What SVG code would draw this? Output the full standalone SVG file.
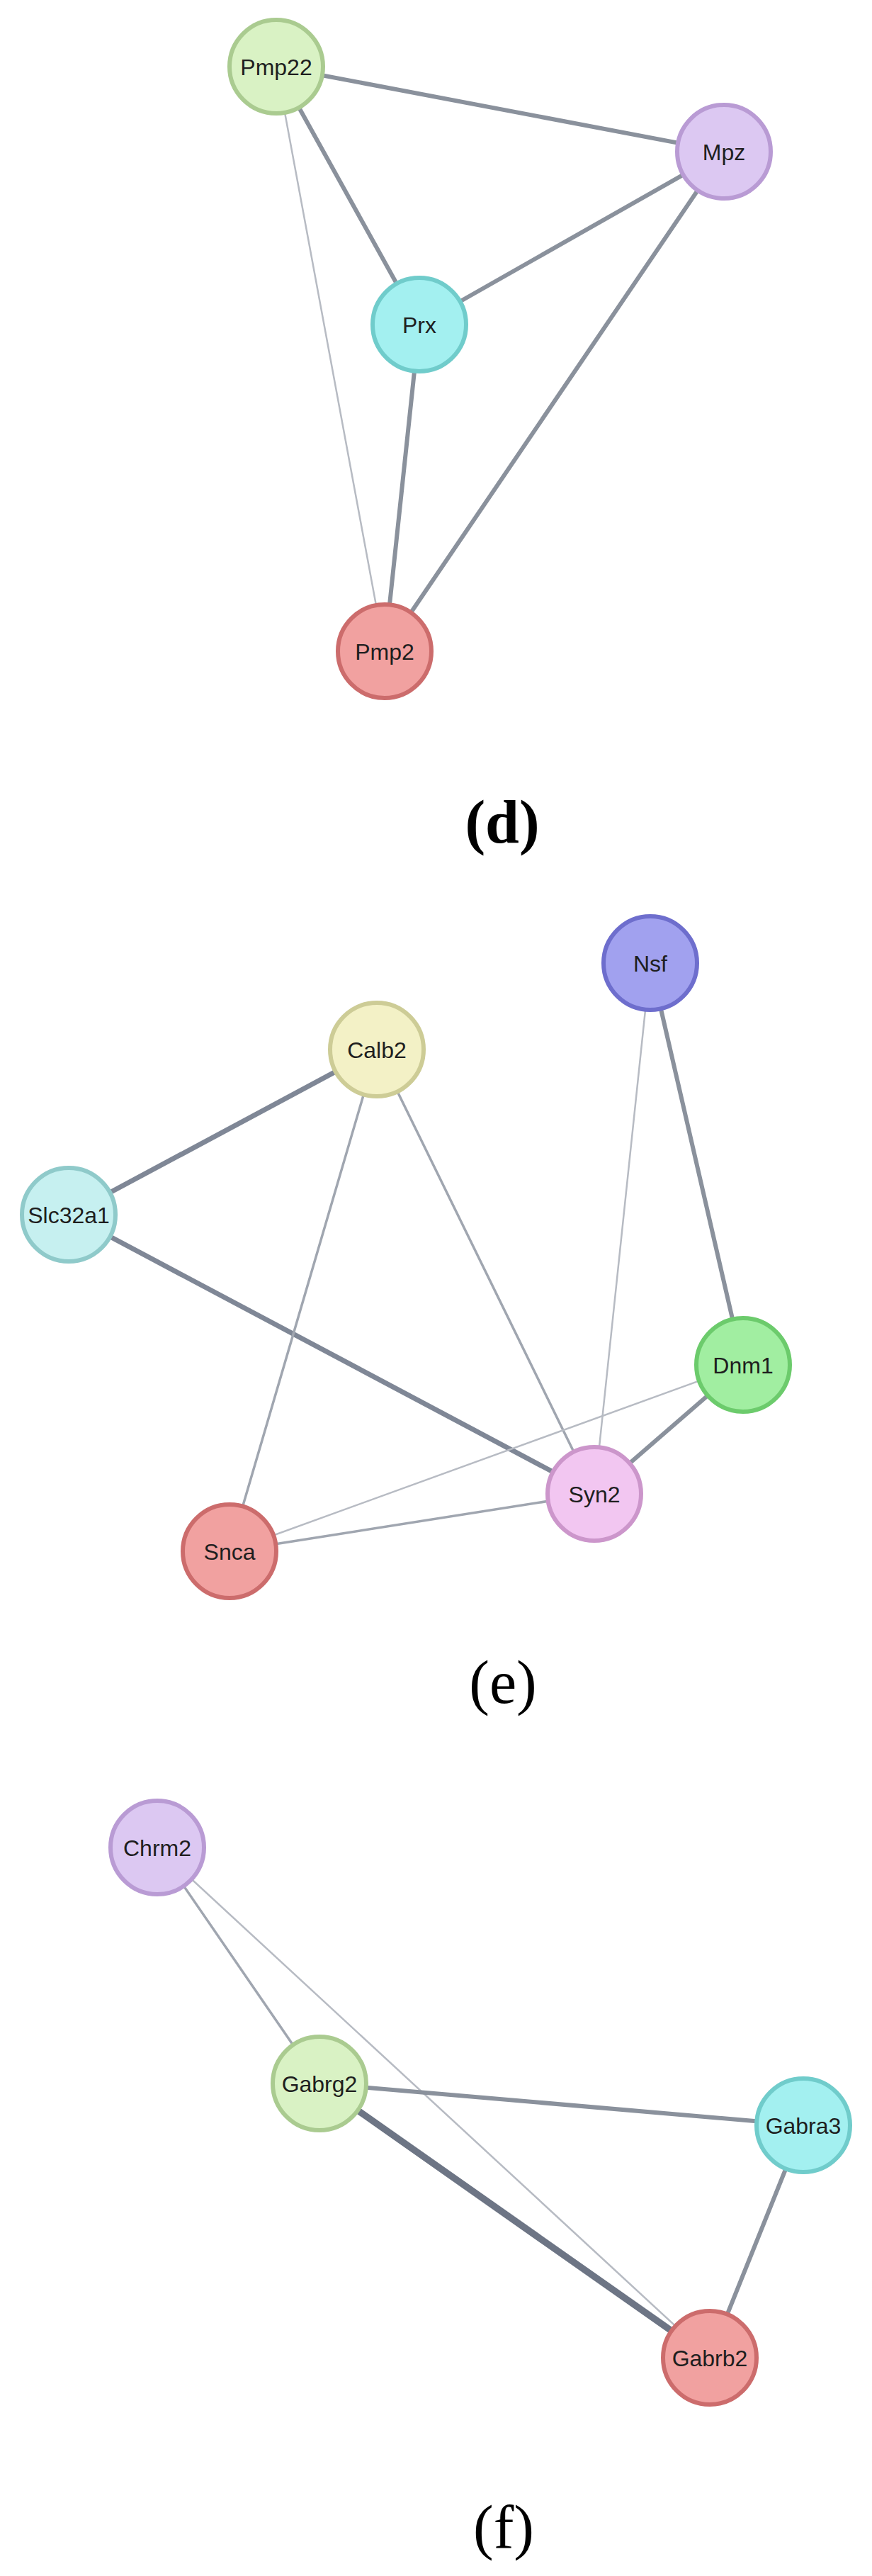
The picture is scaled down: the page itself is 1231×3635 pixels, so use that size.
<svg xmlns="http://www.w3.org/2000/svg" width="1231" height="3635" viewBox="0 0 1231 3635">
<style>
.e{stroke:#8a919c;stroke-linecap:round;fill:none}
.w1{stroke:#b7bbc3;stroke-width:2.5}
.w2{stroke:#a0a6b0;stroke-width:3.5}
.w3{stroke-width:6}
.w4{stroke:#7f8796;stroke-width:7}
.w5{stroke:#6d7585;stroke-width:9.5}
.n circle{stroke-width:6}
.n text{font-family:"Liberation Sans",Arial,sans-serif;font-size:32px;fill:#1e1e1e;text-anchor:middle}
.lab{font-family:"Liberation Serif","Times New Roman",serif;font-size:86px;fill:#000;text-anchor:middle}
.green circle{fill:#d9f2c4;stroke:#aacb90}
.purple circle{fill:#dcc8f2;stroke:#b99bd4}
.cyan circle{fill:#a3f0f0;stroke:#70cccb}
.red circle{fill:#f1a1a0;stroke:#cc6c6c}
.blue circle{fill:#a1a1ef;stroke:#6e6ecd}
.yellow circle{fill:#f3f1c6;stroke:#cdcc96}
.lcyan circle{fill:#c6f0f0;stroke:#8fcaca}
.lgreen circle{fill:#a1eea1;stroke:#6ccb6c}
.pink circle{fill:#f2c6f1;stroke:#cc96cb}
</style>
<rect width="1231" height="3635" fill="#fff"/>
<g id="connectors">
<line class="e w3" x1="390" y1="94" x2="1022" y2="214"/>
<line class="e w3" x1="390" y1="94" x2="592" y2="458"/>
<line class="e w1" x1="390" y1="94" x2="543" y2="919"/>
<line class="e w3" x1="1022" y1="214" x2="592" y2="458"/>
<line class="e w3" x1="1022" y1="214" x2="543" y2="919"/>
<line class="e w3" x1="592" y1="458" x2="543" y2="919"/>

<line class="e w4" x1="532" y1="1481" x2="97" y2="1714"/>
<line class="e w4" x1="97" y1="1714" x2="839" y2="2108"/>
<line class="e w2" x1="532" y1="1481" x2="324" y2="2189"/>
<line class="e w2" x1="532" y1="1481" x2="839" y2="2108"/>
<line class="e w1" x1="918" y1="1359" x2="839" y2="2108"/>
<line class="e w3" x1="918" y1="1359" x2="1049" y2="1926"/>
<line class="e w3" x1="1049" y1="1926" x2="839" y2="2108"/>
<line class="e w1" x1="1049" y1="1926" x2="324" y2="2189"/>
<line class="e w2" x1="839" y1="2108" x2="324" y2="2189"/>

<line class="e w2" x1="222" y1="2607" x2="451" y2="2940"/>
<line class="e w1" x1="222" y1="2607" x2="1002" y2="3327"/>
<line class="e w3" x1="451" y1="2940" x2="1134" y2="2999"/>
<line class="e w5" x1="451" y1="2940" x2="1002" y2="3327"/>
<line class="e w3" x1="1134" y1="2999" x2="1002" y2="3327"/>
</g>

<g id="node-Pmp22" class="n green"><circle cx="390" cy="94" r="66"/><text x="390" y="106">Pmp22</text></g>
<g id="node-Mpz" class="n purple"><circle cx="1022" cy="214" r="66"/><text x="1022" y="226">Mpz</text></g>
<g id="node-Prx" class="n cyan"><circle cx="592" cy="458" r="66"/><text x="592" y="470">Prx</text></g>
<g id="node-Pmp2" class="n red"><circle cx="543" cy="919" r="66"/><text x="543" y="931">Pmp2</text></g>
<text class="lab" x="709" y="1189" font-weight="bold">(d)</text>

<g id="node-Nsf" class="n blue"><circle cx="918" cy="1359" r="66"/><text x="918" y="1371">Nsf</text></g>
<g id="node-Calb2" class="n yellow"><circle cx="532" cy="1481" r="66"/><text x="532" y="1493">Calb2</text></g>
<g id="node-Slc32a1" class="n lcyan"><circle cx="97" cy="1714" r="66"/><text x="97" y="1726">Slc32a1</text></g>
<g id="node-Dnm1" class="n lgreen"><circle cx="1049" cy="1926" r="66"/><text x="1049" y="1938">Dnm1</text></g>
<g id="node-Syn2" class="n pink"><circle cx="839" cy="2108" r="66"/><text x="839" y="2120">Syn2</text></g>
<g id="node-Snca" class="n red"><circle cx="324" cy="2189" r="66"/><text x="324" y="2201">Snca</text></g>
<text class="lab" x="710" y="2403">(e)</text>

<g id="node-Chrm2" class="n purple"><circle cx="222" cy="2607" r="66"/><text x="222" y="2619">Chrm2</text></g>
<g id="node-Gabrg2" class="n green"><circle cx="451" cy="2940" r="66"/><text x="451" y="2952">Gabrg2</text></g>
<g id="node-Gabra3" class="n cyan"><circle cx="1134" cy="2999" r="66"/><text x="1134" y="3011">Gabra3</text></g>
<g id="node-Gabrb2" class="n red"><circle cx="1002" cy="3327" r="66"/><text x="1002" y="3339">Gabrb2</text></g>
<text class="lab" x="711" y="3595">(f)</text>
</svg>
